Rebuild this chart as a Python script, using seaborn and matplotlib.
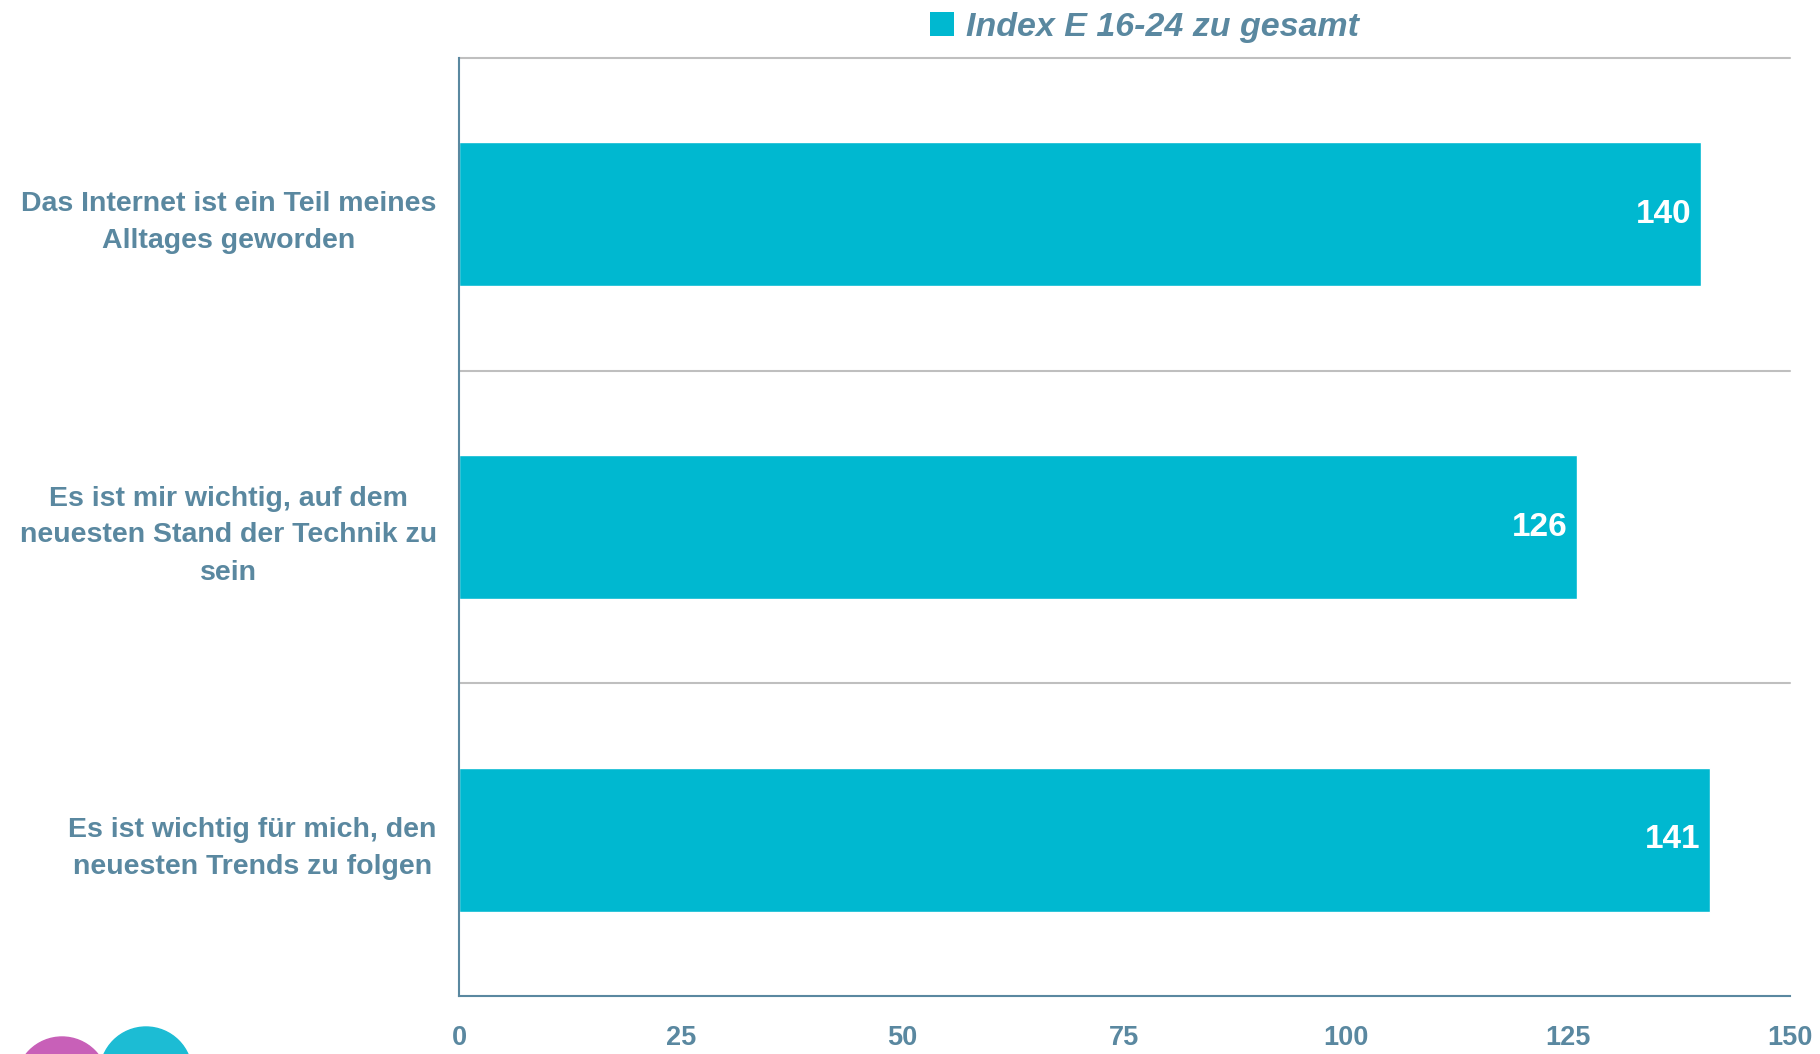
import matplotlib
matplotlib.use("Agg")
import matplotlib.pyplot as plt
from matplotlib.patches import Ellipse, Patch
import seaborn as sns
import pandas as pd

categories = [
    "Das Internet ist ein Teil meines\nAlltages geworden",
    "Es ist mir wichtig, auf dem\nneuesten Stand der Technik zu\nsein",
    "Es ist wichtig für mich, den\nneuesten Trends zu folgen",
]
values = [140, 126, 141]
series_name = "Index E 16-24 zu gesamt"
x_ticks = [0, 25, 50, 75, 100, 125, 150]

bar_color = "#00B8D0"
text_color = "#5A88A0"
grid_color = "#BFBFBF"

sns.set_theme(style="white")
plt.rcParams["font.family"] = ["Liberation Sans", "DejaVu Sans"]

df = pd.DataFrame({"category": categories, "value": values})

fig = plt.figure(figsize=(18.2, 10.54), dpi=100)
ax = fig.add_axes([0.2522, 0.055, 0.7313, 0.890])

sns.barplot(data=df, x="value", y="category", orient="h",
            color=bar_color, saturation=1, width=0.46, ax=ax)

ax.set_xlim(0, 150)
ax.set_ylim(2.5, -0.5)
ax.set_xticks(x_ticks)
ax.set_xticklabels([str(t) for t in x_ticks], fontsize=19.5, fontweight="bold",
                   color=text_color)
ax.set_yticks(range(len(categories)))
ax.set_yticklabels(categories, fontsize=20.5, fontweight="bold",
                   color=text_color, multialignment="center",
                   linespacing=1.55)
ax.tick_params(axis="x", length=0, pad=21)
ax.tick_params(axis="y", length=0, pad=16)
ax.set_xlabel("")
ax.set_ylabel("")

# category separators
for y in [-0.5, 0.5, 1.5]:
    ax.axhline(y, color=grid_color, lw=1.5, zorder=0, clip_on=False)

for side in ["top", "right"]:
    ax.spines[side].set_visible(False)
for side in ["left", "bottom"]:
    ax.spines[side].set_color(text_color)
    ax.spines[side].set_linewidth(1.5)

# value labels inside bar ends
for i, v in enumerate(values):
    ax.annotate(str(v), xy=(v, i), xytext=(-7, 0), textcoords="offset points",
                ha="right", va="center", color="white", fontsize=24,
                fontweight="bold")

handle = Patch(facecolor=bar_color, edgecolor="none")
fig.legend([handle], [series_name], loc="center", bbox_to_anchor=(0.629, 0.974),
           frameon=False, handlelength=0.7, handleheight=0.7, handletextpad=0.35,
           prop={"size": 24.5, "weight": "bold", "style": "italic"},
           labelcolor=text_color)

# partial logo in the bottom-left corner
r = 46
fig.add_artist(Ellipse((62 / 1820, 1 - 1083 / 1054), 2 * r / 1820, 2 * r / 1054,
                       transform=fig.transFigure, color="#C860B8", clip_on=False))
fig.add_artist(Ellipse((146 / 1820, 1 - 1073 / 1054), 2 * r / 1820, 2 * r / 1054,
                       transform=fig.transFigure, color="#1CBCD4", clip_on=False))

fig.savefig("out.png", dpi=100)
plt.close(fig)
